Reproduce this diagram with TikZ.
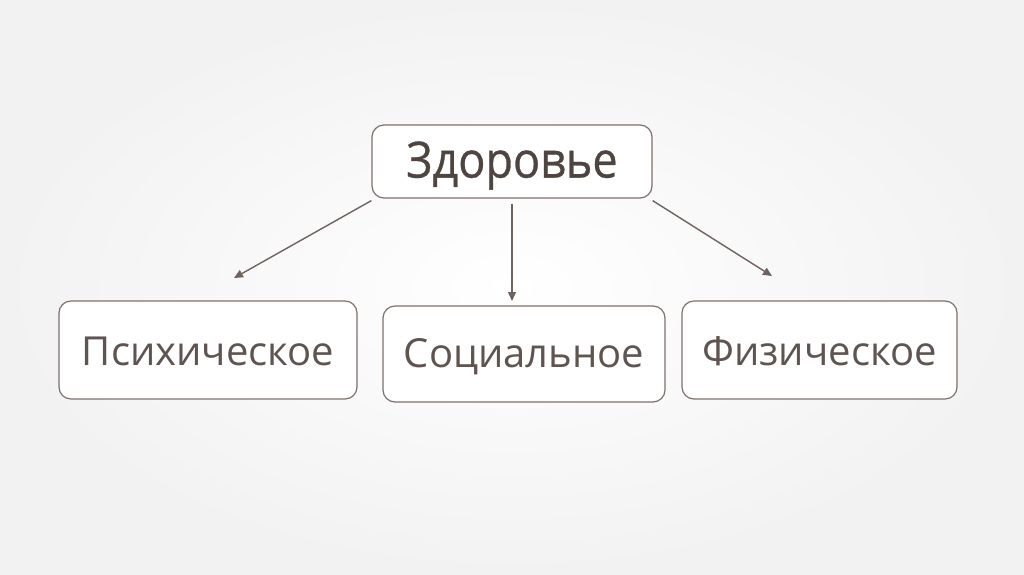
\documentclass[tikz,border=0pt]{standalone}
\usepackage{fontspec}
\setmainfont{Open Sans}
\newfontfamily\zdrfont[FakeStretch=0.9, FakeBold=0.6]{Open Sans}
\definecolor{hlBorder}{HTML}{7D716C}
\definecolor{hlArrow}{HTML}{6F635F}
\definecolor{hlText}{HTML}{4E4440}
\definecolor{hlSubText}{HTML}{5E5450}
\definecolor{hlBack}{HTML}{F2F2F2}
\usepackage{tikz}
\usetikzlibrary{arrows.meta, positioning}
\newcommand{\lowered}[2]{\raisebox{-#1}[\height][\depth]{#2}}

\begin{document}
\begin{tikzpicture}[
  x=1pt, y=-1pt,
  every node/.style={text=hlSubText},
  card/.style={draw=hlBorder, line width=1.2pt, rounded corners=12pt,
    fill=white, align=center, inner sep=0pt},
  arr/.style={hlArrow, line width=1.4pt, -{Triangle[length=9pt, width=8pt]}}]
  % Background
  \shade[inner color=white, outer color=hlBack] (0,0) rectangle (1024,574);
  \useasboundingbox (0,0) rectangle (1024,574);
  % Boxes
  \node[card, minimum width=280pt, minimum height=73pt, text=hlText,
    font=\zdrfont\fontsize{50}{54}\selectfont]
    (zdr) at (512,161.5) {\lowered{4pt}{Здоровье}};
  \node[card, minimum width=298pt, minimum height=98pt, font=\fontsize{40}{44}\selectfont]
    (psy) at (208,350) {\lowered{1pt}{Психическое}};
  \node[card, minimum width=282pt, minimum height=96pt, font=\fontsize{40}{44}\selectfont]
    (soc) at (524,354) {\lowered{3pt}{Социальное}};
  \node[card, minimum width=275pt, minimum height=98pt, font=\fontsize{40}{44}\selectfont]
    (phy) at (819.5,350) {\lowered{1pt}{Физическое}};
  % Arrow tips
  \coordinate (psyTip) at (234,278);
  \coordinate (socTip) at (512,301);
  \coordinate (phyTip) at (772,276);
  % Arrows
  \draw[arr] ([yshift=-2pt]zdr.south west) -- (psyTip);
  \draw[arr] ([yshift=-5pt]zdr.south) -- (socTip);
  \draw[arr] ([yshift=-2pt]zdr.south east) -- (phyTip);
\end{tikzpicture}
\end{document}
